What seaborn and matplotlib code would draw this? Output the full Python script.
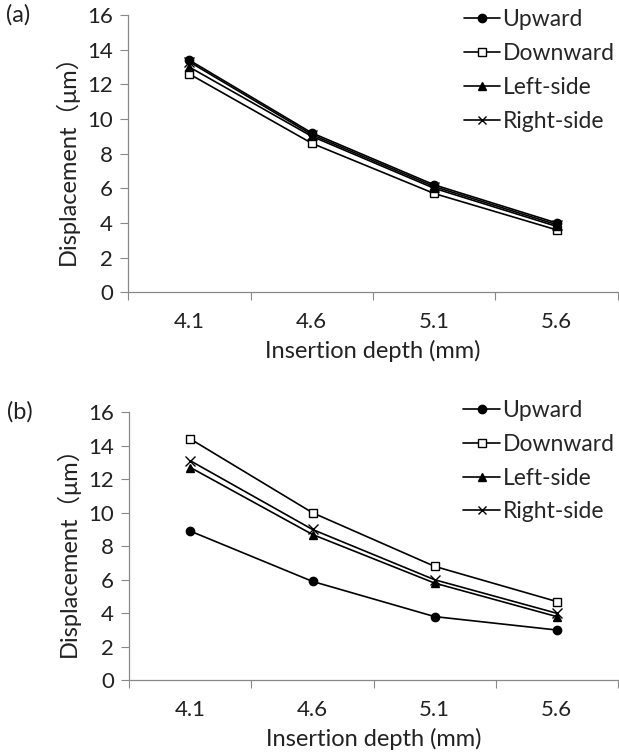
import matplotlib
matplotlib.use("Agg")
import matplotlib.pyplot as plt
import seaborn as sns
import pandas as pd
from matplotlib.lines import Line2D

depths = ["4.1", "4.6", "5.1", "5.6"]
series = ["Upward", "Downward", "Left-side", "Right-side"]

a_upward = [13.4, 9.2, 6.2, 4.0]
a_downward = [12.6, 8.6, 5.7, 3.6]
a_left = [13.0, 9.0, 6.0, 3.8]
a_right = [13.3, 9.1, 6.1, 3.9]

b_upward = [8.9, 5.9, 3.8, 3.0]
b_downward = [14.4, 10.0, 6.8, 4.7]
b_left = [12.7, 8.7, 5.8, 3.8]
b_right = [13.1, 9.0, 6.0, 4.0]

yticks = [0, 2, 4, 6, 8, 10, 12, 14, 16]

sns.set_theme(style="white")
plt.rcParams['font.family'] = ['Lato', 'Noto Sans CJK SC', 'DejaVu Sans']

markers = {"Upward": "o", "Downward": "s", "Left-side": "^", "Right-side": "x"}
mfc = {"Upward": "black", "Downward": "white", "Left-side": "black", "Right-side": "black"}


def make_df(vals):
    rows = []
    for name, v in zip(series, vals):
        for d, y in zip(depths, v):
            rows.append({"depth": d, "disp": y, "series": name})
    return pd.DataFrame(rows)


fig = plt.figure(figsize=(6.19, 7.55), dpi=100)
ax_a = fig.add_axes([0.207, 0.613, 0.791, 0.367])
ax_b = fig.add_axes([0.209, 0.099, 0.789, 0.355])

panels = [(ax_a, make_df([a_upward, a_downward, a_left, a_right]), "(a)", 1.055),
          (ax_b, make_df([b_upward, b_downward, b_left, b_right]), "(b)", 1.08)]

for ax, df, lab, ly in panels:
    for name in series:
        sub = df[df["series"] == name]
        sns.lineplot(data=sub, x="depth", y="disp", ax=ax, color="black",
                     marker=markers[name], markersize=6 if name != "Right-side" else 7,
                     markerfacecolor=mfc[name], markeredgecolor="black",
                     markeredgewidth=1.0, linewidth=1.2, legend=False, sort=False)
    ax.set_xlim(-0.5, 3.5)
    ax.set_ylim(0, 16)
    ax.set_yticks(yticks)
    ax.set_yticklabels([str(t) for t in yticks], fontsize=16, color="#222222")
    ax.set_xticks(range(len(depths)))
    ax.set_xticklabels(depths, fontsize=16, color="#222222")
    ax.set_xticks([i - 0.5 for i in range(len(depths) + 1)], minor=True)
    ax.tick_params(axis="x", which="major", length=0, pad=14)
    ax.tick_params(axis="x", which="minor", length=6, width=0.8, color="#888888", direction="out", bottom=True)
    ax.tick_params(axis="y", length=6, width=0.8, color="#888888", direction="out", left=True, pad=5)
    for s in ["top", "right"]:
        ax.spines[s].set_visible(False)
    for s in ["left", "bottom"]:
        ax.spines[s].set_color("#888888")
        ax.spines[s].set_linewidth(0.9)
    ax.set_xlabel("Insertion depth (mm)", fontsize=17, color="#222222", labelpad=6)
    ax.set_ylabel("Displacement（μm）", fontsize=17, color="#222222", labelpad=6)
    handles = [Line2D([], [], color="black", linewidth=1.2, marker=markers[n],
                      markersize=6, markerfacecolor=mfc[n], markeredgecolor="black")
               for n in series]
    ax.legend(handles, series, loc="upper right", bbox_to_anchor=(1.012, ly),
              frameon=False, fontsize=16.5, handlelength=1.6, handletextpad=0.1,
              labelspacing=0.56, borderaxespad=0.0)
    ax.text(-0.25, 1.0, lab, transform=ax.transAxes, fontsize=17, color="#222222",
            ha="left", va="center")

fig.savefig("out.png", dpi=100)
